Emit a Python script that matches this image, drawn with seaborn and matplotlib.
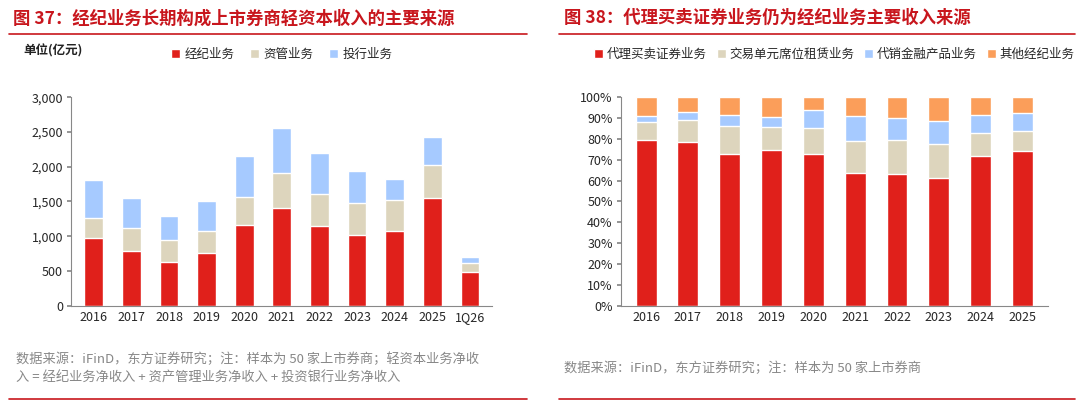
import matplotlib
matplotlib.use("Agg")
import matplotlib.pyplot as plt
import seaborn as sns
import pandas as pd
import numpy as np
from matplotlib.lines import Line2D

sns.set_theme(style="white")
plt.rcParams['font.family'] = ['Noto Sans CJK SC', 'DejaVu Sans']

years_l = ["2016","2017","2018","2019","2020","2021","2022","2023","2024","2025","1Q26"]
brokerage = [970, 790, 635, 760, 1165, 1410, 1150, 1020, 1075, 1555, 480]
asset_mgmt = [295, 325, 305, 315, 395, 505, 460, 460, 440, 475, 135]
ib = [540, 440, 350, 430, 595, 635, 590, 455, 305, 395, 90]
names_l = ["经纪业务", "资管业务", "投行业务"]

years_r = ["2016","2017","2018","2019","2020","2021","2022","2023","2024","2025"]
agency = [79.3, 78.3, 72.8, 74.8, 72.6, 63.7, 63.1, 61.4, 71.7, 74.3]
seat = [9.0, 10.9, 13.5, 11.0, 12.4, 15.5, 16.4, 16.0, 11.3, 9.3]
fin_prod = [2.9, 3.8, 5.4, 4.8, 9.1, 11.9, 10.7, 11.1, 8.5, 8.6]
other = [8.8, 7.0, 8.3, 9.4, 5.9, 8.9, 9.8, 11.5, 8.5, 7.8]
names_r = ["代理买卖证券业务", "交易单元席位租赁业务", "代销金融产品业务", "其他经纪业务"]

colors = ["#e0201b", "#ddd5bd", "#a6caff", "#fb9e5a"]
RED = "#c8161d"

fig = plt.figure(figsize=(10.8, 4.05), dpi=100)

def stacked(ax, cats, series, names):
    bottom = np.zeros(len(cats))
    for vals, name, c in zip(series, names, colors):
        df = pd.DataFrame({"cat": cats, "v": np.array(vals) + bottom})
        sns.barplot(data=df, x="cat", y="v", color=c, ax=ax, width=0.5, zorder=3 - 0.01*len(bottom))
        bottom = bottom + np.array(vals)
    return bottom

# Left: draw from top cumulative down so lower layers are visible
def stacked_draw(ax, cats, series, names):
    cums = np.cumsum(np.array(series), axis=0)
    for i in range(len(series) - 1, -1, -1):
        df = pd.DataFrame({"cat": cats, "v": cums[i]})
        sns.barplot(data=df, x="cat", y="v", color=colors[i], ax=ax, width=0.5,
                    saturation=1, label=names[i])
    h, l = ax.get_legend_handles_labels()
    return h[::-1], l[::-1]

axl = fig.add_axes([0.066, 0.245, 0.39, 0.515])
h, l = stacked_draw(axl, years_l, [brokerage, asset_mgmt, ib], names_l)
axl.set_ylim(0, 3000)
axl.set_yticks(range(0, 3001, 500))
axl.set_yticklabels([f"{v:,}" for v in range(0, 3001, 500)], fontsize=9)
axl.legend(h, l, loc="lower center", bbox_to_anchor=(0.5, 1.12), ncol=3, frameon=False,
           fontsize=9, handlelength=0.7, handleheight=0.7, columnspacing=1.2, handletextpad=0.4)

axr = fig.add_axes([0.575, 0.245, 0.395, 0.515])
h, l = stacked_draw(axr, years_r, [agency, seat, fin_prod, other], names_r)
axr.set_ylim(0, 100)
axr.set_yticks(range(0, 101, 10))
axr.set_yticklabels([f"{v}%" for v in range(0, 101, 10)], fontsize=9)
axr.legend(h, l, loc="lower center", bbox_to_anchor=(0.5, 1.12), ncol=4, frameon=False,
           fontsize=9, handlelength=0.7, handleheight=0.7, columnspacing=0.8, handletextpad=0.3)

for ax in (axl, axr):
    ax.set_xlabel(""); ax.set_ylabel("")
    for s in ("top", "right"):
        ax.spines[s].set_visible(False)
    for s in ("left", "bottom"):
        ax.spines[s].set_color("#888888"); ax.spines[s].set_linewidth(0.8)
    ax.tick_params(axis="x", labelsize=9, length=0, pad=4)
    ax.tick_params(axis="y", left=True, length=3, color="#888888", pad=3)
    ax.set_xlim(-0.6, len(ax.get_xticks()) - 0.4)

fig.text(0.012, 0.955, "图 37：经纪业务长期构成上市券商轻资本收入的主要来源", color=RED,
         fontsize=12.5, fontweight="bold", va="center")
fig.text(0.522, 0.955, "图 38：代理买卖证券业务仍为经纪业务主要收入来源", color=RED,
         fontsize=12.5, fontweight="bold", va="center")
fig.text(0.022, 0.875, "单位(亿元)", fontsize=9, fontweight="bold", va="center", color="#222222")
for x0, x1 in ((0.008, 0.488), (0.518, 0.995)):
    fig.add_artist(Line2D([x0, x1], [0.915, 0.915], color=RED, lw=1.2, transform=fig.transFigure))
    fig.add_artist(Line2D([x0, x1], [0.015, 0.015], color=RED, lw=1.2, transform=fig.transFigure))
fig.text(0.015, 0.09, "数据来源：iFinD，东方证券研究；注：样本为 50 家上市券商；轻资本业务净收\n入 = 经纪业务净收入 + 资产管理业务净收入 + 投资银行业务净收入",
         fontsize=9.5, color="#888888", va="center", linespacing=1.6)
fig.text(0.522, 0.09, "数据来源：iFinD，东方证券研究；注：样本为 50 家上市券商",
         fontsize=9.5, color="#888888", va="center")

fig.savefig("out.png", dpi=100)
